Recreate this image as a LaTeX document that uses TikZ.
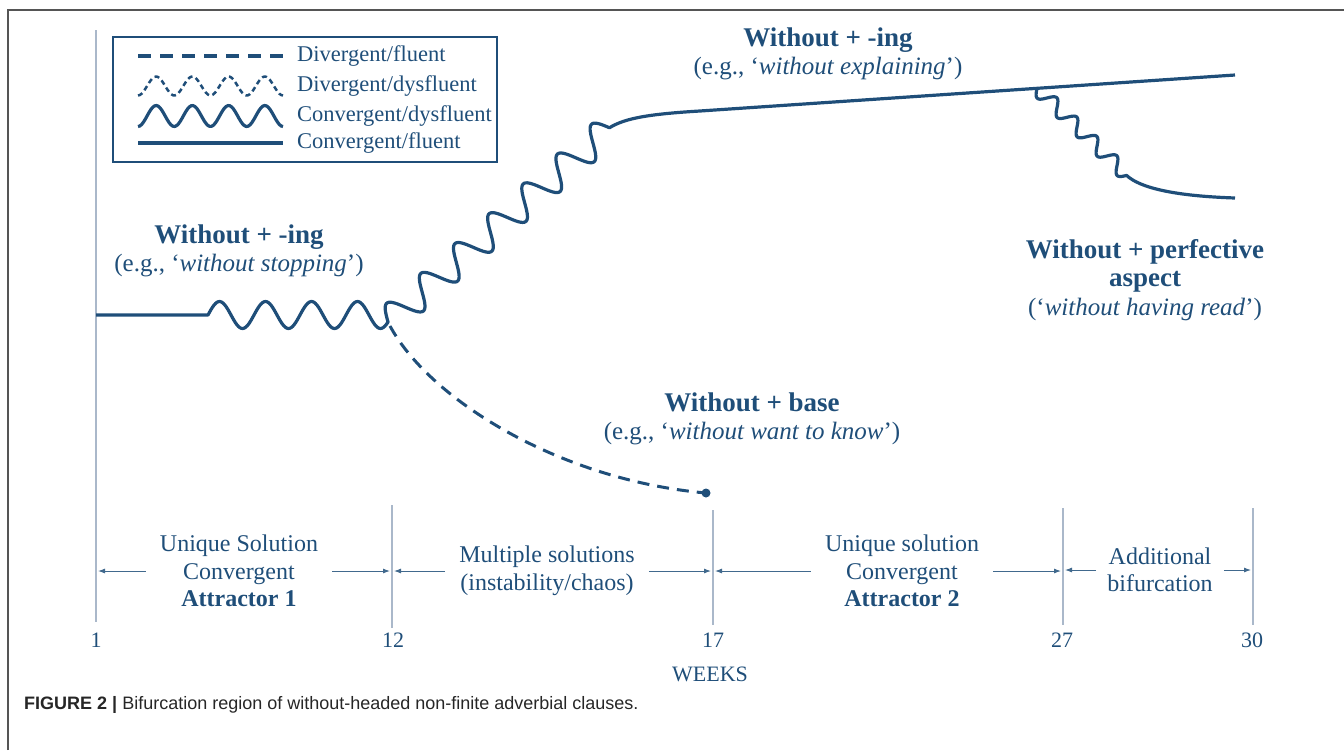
\documentclass[tikz,border=0pt]{standalone}
\usepackage{fontspec}
\setmainfont{Liberation Serif}
\newfontfamily\capfont{Liberation Sans}
\usetikzlibrary{arrows.meta,positioning}
\definecolor{navy}{RGB}{31,78,121}
\definecolor{rulegray}{RGB}{170,184,202}
\definecolor{framegray}{RGB}{85,85,85}

\begin{document}
\begin{tikzpicture}[x=1pt,y=-1pt,
  curve/.style={navy, line width=3.2pt, line join=round},
  weekline/.style={rulegray, line width=1.1pt},
  span/.style={navy!85, line width=0.9pt, -{Latex[length=7pt,width=5pt]}, shorten >=2pt},
  lbl/.style={text=navy, align=center, font=\fontsize{25}{28.5}\selectfont, inner sep=0pt},
  region/.style={text=navy, align=center, font=\fontsize{24}{27.5}\selectfont, inner sep=0pt},
  num/.style={text=navy, font=\fontsize{22}{24}\selectfont, inner sep=0pt},
  key/.style={text=navy, anchor=west, font=\fontsize{22.5}{24}\selectfont, inner sep=0pt}]
  \useasboundingbox (0,0) rectangle (1344,750);
  \draw[framegray, line width=1.4pt] (8,750) -- (8,10) -- (1344,10);

  % legend
  \draw[navy, line width=1.2pt] (113,37) rectangle (497,162);
  \draw[curve, line width=3.6pt, dash pattern=on 13pt off 9pt] (138,56) -- (283,56);
  \draw[curve, line width=2.5pt, dash pattern=on 5pt off 3.5pt] plot[domain=0:145,samples=80] ({138+\x},{86+9.5*cos(9.931*\x)});
  \draw[curve] plot[domain=0:145,samples=80] ({138+\x},{116+10.5*cos(9.931*\x)});
  \draw[curve] (138,143) -- (283,143);
  \node[key] (k1) at (297,56) {Divergent/fluent};
  \node[key] (k2) at (297,86) {Divergent/dysfluent};
  \node[key] (k3) at (297,116) {Convergent/dysfluent};
  \node[key] (k4) at (297,143) {Convergent/fluent};

  % week lines
  \coordinate (v0) at (96,569);
  \coordinate (v1) at (392,569);
  \coordinate (v2) at (713,569);
  \coordinate (v3) at (1063,569);
  \coordinate (v4) at (1253,569);
  \draw[weekline] (96,30) -- (96,622);
  \draw[weekline] (392,505) -- (392,628);
  \draw[weekline] (713,510) -- (713,625);
  \draw[weekline] (1063,508) -- (1063,625);
  \draw[weekline] (1253,508) -- (1253,625);

  % trajectories
  \coordinate (start) at (96,315);
  \coordinate (split) at (388,322);
  \coordinate (fork) at (1037,88.3);
  \coordinate (top) at (1235,75);
  \coordinate (low) at (1235,198);
  \coordinate (stop) at (706,493);
  \draw[curve] (start) -- (208,315)
    -- plot[domain=0:180,samples=120] ({208+\x},{315-13.5*sin(7.826*\x)})
    -- plot[domain=0:1,samples=220,variable=\t] ({388+222*\t-15*0.655*sin(2340*\t)},{322-194*\t-15*0.756*sin(2340*\t)})
    .. controls (625,118) and (650,114) .. (700,111) -- (top);
  \draw[curve] plot[domain=0:1,samples=150,variable=\t] ({1037+90*\t-7*0.687*sin(1620*\t)},{88.3+87*\t+7*0.727*sin(1620*\t)})
    .. controls (1140,188) and (1175,196) .. (low);
  \draw[curve, line width=3pt, dash pattern=on 12pt off 8pt] (390,326) .. controls (430,400) and (560,480) .. (stop);
  \fill[navy] (stop) circle (4.5pt);

  % labels
  \node[lbl] (ing1) at (239,251) {{\bfseries\fontsize{27}{29}\selectfont Without + -ing}\\(e.g., ‘\textit{without stopping}’)};
  \node[lbl] (ing2) at (828,54) {{\bfseries\fontsize{27}{29}\selectfont Without + -ing}\\(e.g., ‘\textit{without explaining}’)};
  \node[lbl] (perf) at (1145,280) {{\bfseries\fontsize{27}{29}\selectfont Without + perfective}\\{\bfseries\fontsize{27}{29}\selectfont aspect}\\(‘\textit{without having read}’)};
  \node[lbl] (base) at (752,419) {{\bfseries\fontsize{27}{29}\selectfont Without + base}\\(e.g., ‘\textit{without want to know}’)};

  % regions
  \node[region] (r1) at (239,571) {Unique Solution\\Convergent\\\textbf{Attractor 1}};
  \node[region] (r2) at (547,571) {Multiple solutions\\(instability/chaos)};
  \node[region] (r3) at (902,571) {Unique solution\\Convergent\\\textbf{Attractor 2}};
  \node[region] (r4) at (1160,570) {Additional\\bifurcation};
  \draw[span] ([xshift=-14pt]r1.west) -- (r1.west -| v0);
  \draw[span] ([xshift=14pt]r1.east) -- (r1.east -| v1);
  \draw[span] ([xshift=-14pt]r2.west) -- (r2.west -| v1);
  \draw[span] ([xshift=14pt]r2.east) -- (r2.east -| v2);
  \draw[span] ([xshift=-14pt]r3.west) -- (r3.west -| v2);
  \draw[span] ([xshift=14pt]r3.east) -- (r3.east -| v3);
  \draw[span] ([xshift=-11pt]r4.west) -- (r4.west -| v3);
  \draw[span] ([xshift=11pt]r4.east) -- (r4.east -| v4);

  \node[num] (w1) at (96,640) {1};
  \node[num] (w12) at (393,640) {12};
  \node[num] (w17) at (713,640) {17};
  \node[num] (w27) at (1062,640) {27};
  \node[num] (w30) at (1252,640) {30};
  \node[num] (weeks) at (710,674) {WEEKS};

  \node[anchor=west, inner sep=0pt, text=black!85, font=\capfont\fontsize{18}{20}\selectfont] (cap) at (24,705) {\textbf{FIGURE 2 |} Bifurcation region of without-headed non-finite adverbial clauses.};
\end{tikzpicture}
\end{document}
